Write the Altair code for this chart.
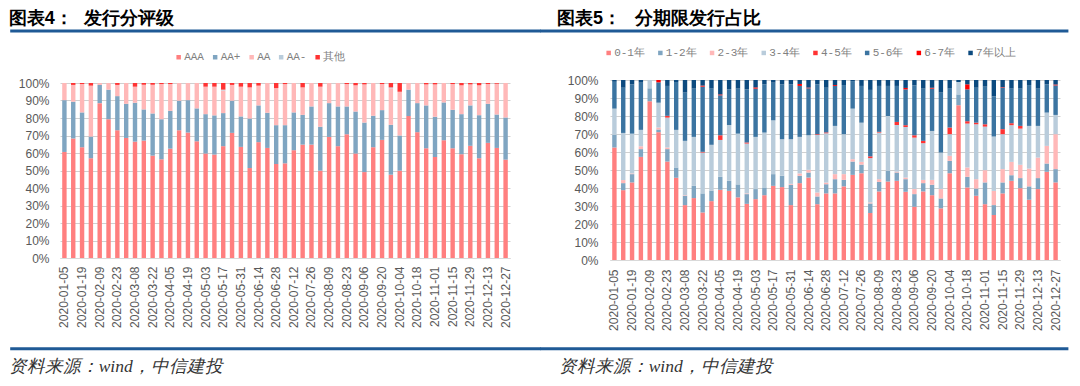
import altair as alt
import pandas as pd

# ---------------- data ----------------
dates = [
    "2020-01-05", "2020-01-12", "2020-01-19", "2020-02-02", "2020-02-09", "2020-02-16", "2020-02-23",
    "2020-03-01", "2020-03-08", "2020-03-15", "2020-03-22", "2020-03-29", "2020-04-05", "2020-04-12",
    "2020-04-19", "2020-04-26", "2020-05-03", "2020-05-10", "2020-05-17", "2020-05-24", "2020-05-31",
    "2020-06-07", "2020-06-14", "2020-06-21", "2020-06-28", "2020-07-05", "2020-07-12", "2020-07-19",
    "2020-07-26", "2020-08-02", "2020-08-09", "2020-08-16", "2020-08-23", "2020-08-30", "2020-09-06",
    "2020-09-13", "2020-09-20", "2020-09-27", "2020-10-04", "2020-10-11", "2020-10-18", "2020-10-25",
    "2020-11-01", "2020-11-08", "2020-11-15", "2020-11-22", "2020-11-29", "2020-12-06", "2020-12-13",
    "2020-12-20", "2020-12-27",
]
tick_labels = [
    "2020-01-05", "2020-01-19", "2020-02-09", "2020-02-23", "2020-03-08", "2020-03-22", "2020-04-05",
    "2020-04-19", "2020-05-03", "2020-05-17", "2020-05-31", "2020-06-14", "2020-06-28", "2020-07-12",
    "2020-07-26", "2020-08-09", "2020-08-23", "2020-09-06", "2020-09-20", "2020-10-04", "2020-10-18",
    "2020-11-01", "2020-11-15", "2020-11-29", "2020-12-13", "2020-12-27",
]
y_ticks = [0, 10, 20, 30, 40, 50, 60, 70, 80, 90, 100]

# Chart 4: issuance by rating (%)
rating_names = ["AAA", "AA+", "AA", "AA-", "其他"]
rating_colors = ["#FF7F7F", "#7FA5C1", "#FFB8B8", "#B9CCDB", "#FF3333"]
r_AAA = [60.6, 68.3, 63.3, 57.0, 88.5, 79.3, 73.0, 68.6, 66.5, 67.1,
         58.5, 56.4, 62.5, 73.0, 71.7, 66.7, 59.7, 59.1, 63.9, 71.5,
         63.5, 51.4, 66.2, 62.9, 53.7, 54.1, 61.6, 64.8, 64.8, 49.9,
         69.2, 63.9, 70.7, 59.7, 49.1, 63.3, 67.5, 47.6, 49.9, 81.1,
         71.9, 62.7, 57.7, 67.3, 62.7, 59.3, 64.1, 57.0, 65.8, 62.9, 56.2]
r_AAp = [29.6, 21.0, 19.9, 12.4, 10.4, 16.9, 19.5, 19.5, 22.2, 17.8,
         24.1, 22.9, 21.6, 16.9, 18.5, 18.8, 22.5, 22.4, 18.9, 18.4,
         17.4, 28.3, 21.0, 20.1, 22.2, 21.8, 21.6, 17.0, 21.8, 25.1,
         19.3, 22.7, 15.9, 24.0, 28.3, 18.0, 17.0, 28.5, 20.1, 15.1,
         16.6, 24.5, 23.0, 21.6, 22.0, 22.9, 23.1, 24.6, 22.3, 19.1, 24.1]
r_AA = [9.8, 9.6, 16.2, 29.1, 1.1, 3.8, 6.4, 11.9, 9.2, 14.1,
        16.4, 20.1, 15.3, 10.1, 9.8, 14.5, 15.7, 16.4, 12.9, 9.0,
        17.0, 17.8, 11.3, 17.0, 21.2, 23.5, 16.8, 15.7, 13.4, 22.9,
        11.5, 13.4, 12.8, 15.0, 21.8, 18.7, 14.9, 20.9, 25.0, 3.8,
        11.5, 12.0, 18.5, 11.1, 14.7, 16.5, 12.0, 17.1, 11.3, 17.6, 19.7]
r_AAm = [0, 0, 0, 0, 0, 0, 0, 0, 0, 0,
         0, 0, 0, 0, 0, 0, 0, 0, 0.5, 0,
         0, 0, 0, 0, 0, 0, 0, 0, 0, 0,
         0, 0, 0, 0, 0, 0, 0, 0.5, 0, 0,
         0, 0, 0, 0, 0, 0, 0, 0, 0, 0, 0]
r_other = [0, 1.1, 0.6, 1.5, 0, 0, 1.1, 0, 2.1, 1.0,
           1.0, 0.6, 0.6, 0, 0, 0, 2.1, 2.1, 3.8, 1.1,
           2.1, 2.5, 1.5, 0, 2.9, 0.6, 0, 2.5, 0, 2.1,
           0, 0, 0.6, 1.3, 0.8, 0, 0.6, 2.5, 5.0, 0,
           0, 0.8, 0.8, 0, 0.6, 1.3, 0.8, 1.3, 0.6, 0.4, 0]

# Chart 5: issuance by tenor (%)
tenor_names = ["0-1年", "1-2年", "2-3年", "3-4年", "4-5年", "5-6年", "6-7年", "7年以上"]
tenor_colors = ["#FF7F7F", "#7FA5C1", "#FFB8B8", "#B9CCDB", "#FF3333", "#3B74A1", "#FF0000", "#0C4A7F"]
t_01 = [62.5, 38.8, 43.1, 57.3, 88.2, 71.0, 54.7, 45.7, 30.5, 34.4,
        26.4, 32.7, 39.0, 38.4, 34.8, 31.2, 33.8, 36.0, 41.2, 40.5,
        30.5, 42.7, 45.8, 31.0, 37.0, 37.0, 40.9, 47.3, 48.2, 26.1,
        38.1, 43.6, 44.0, 37.9, 29.6, 38.1, 36.0, 28.7, 48.2, 86.0,
        40.3, 35.7, 31.0, 25.0, 37.0, 44.0, 39.9, 33.5, 39.4, 49.0, 43.1]
t_12 = [7.0, 3.9, 4.6, 4.3, 7.2, 1.5, 6.9, 5.7, 5.2, 6.8,
        10.6, 5.9, 7.2, 5.6, 7.2, 5.4, 5.6, 4.3, 6.5, 6.3,
        11.3, 4.1, 2.8, 4.3, 5.1, 7.9, 3.6, 7.4, 4.8, 5.3,
        5.3, 5.9, 4.6, 7.0, 7.0, 4.6, 5.8, 5.5, 6.9, 6.0,
        5.9, 4.0, 12.1, 5.5, 6.1, 3.1, 5.6, 7.4, 6.1, 4.6, 7.4]
t_23 = [0, 1.7, 0.4, 1.6, 0, 1.1, 0.9, 0, 0.3, 0,
        0, 0, 0, 0, 0, 0.4, 0, 0, 0, 0,
        0.5, 1.3, 1.5, 2.2, 0.9, 2.8, 3.2, 1.3, 1.5, 0.6,
        1.5, 0, 0.5, 0.9, 2.8, 1.8, 2.7, 5.2, 2.8, 0,
        5.2, 5.2, 6.8, 7.9, 7.4, 7.4, 7.4, 9.9, 11.4, 9.8, 19.4]
t_34 = [14.6, 26.2, 22.1, 9.1, 4.6, 13.8, 16.6, 20.9, 30.2, 27.2,
        22.7, 25.4, 20.5, 31.0, 28.2, 27.7, 29.0, 30.5, 29.9, 20.3,
        24.8, 20.3, 19.2, 32.0, 27.4, 26.8, 22.2, 28.1, 21.8, 24.6,
        25.9, 30.5, 25.9, 28.1, 28.6, 20.4, 27.2, 20.3, 12.0, 6.9,
        24.4, 30.5, 24.2, 30.2, 19.4, 20.4, 20.1, 23.7, 17.6, 18.5, 10.7]
t_45 = [0, 0, 0, 0, 0, 0, 1.0, 0, 0, 0,
        0.4, 0, 2.6, 0, 0, 0.6, 0, 0, 0, 0,
        0, 0, 0, 0.4, 0.5, 0, 0, 0, 0, 1.0,
        0.4, 0, 1.7, 1.0, 1.3, 1.3, 0, 0, 3.7, 0,
        1.3, 0.9, 1.3, 0, 2.8, 1.1, 1.5, 0, 0, 0, 0]
t_56 = [14.9, 25.1, 27.4, 26.2, 0, 11.3, 16.6, 26.6, 26.8, 26.8,
        36.2, 31.2, 22.2, 19.8, 25.0, 29.5, 26.8, 26.8, 20.9, 30.5,
        30.5, 28.3, 26.1, 27.7, 24.8, 22.2, 27.3, 15.3, 20.4, 36.9,
        25.5, 16.7, 20.0, 19.9, 27.7, 29.0, 23.5, 33.3, 21.6, 0,
        17.7, 19.4, 20.9, 22.3, 23.0, 19.2, 20.7, 22.7, 20.7, 15.7, 16.4]
t_67 = [0, 0, 0, 0, 0, 1.3, 0, 0, 0, 0,
        0.6, 0, 0.5, 0, 0, 0, 0.7, 0, 0, 0,
        0, 1.1, 0.4, 0, 0, 0.5, 0, 0, 0, 0,
        0, 0, 0, 0.8, 0, 0, 0.5, 0, 0, 0,
        2.8, 0, 0, 0, 0.3, 0, 0, 0, 0, 0, 0.5]
t_7p = [1.0, 4.3, 2.4, 1.5, 0, 0, 3.3, 1.1, 7.0, 4.8,
        3.1, 4.8, 8.0, 5.2, 4.8, 5.2, 4.1, 2.4, 1.5, 2.4,
        2.4, 2.2, 4.2, 2.4, 4.3, 2.8, 2.8, 0.6, 3.3, 5.5,
        3.3, 3.3, 3.3, 4.4, 3.0, 4.8, 4.3, 7.0, 4.8, 1.1,
        2.4, 4.3, 3.7, 9.1, 4.0, 4.8, 4.8, 2.8, 4.8, 2.4, 2.5]

title4_a, title4_b = "图表4：", "发行分评级"
title5_a, title5_b = "图表5：", "分期限发行占比"
source_text = "资料来源：wind，中信建投"

# ---------------- styling ----------------
BLUE_LINE = "#1F5A96"
AX_FONT = "Liberation Sans"
LEG_FONT = "Liberation Mono"
TITLE_FONT = "Liberation Sans"
FOOT_FONT = "Liberation Serif"


def long_table(names, series):
    rows = []
    for k, (name, vals) in enumerate(zip(names, series)):
        for d, v in zip(dates, vals):
            rows.append({"date": d, "series": name, "k": k, "pct": v})
    return pd.DataFrame(rows)


def one(text):
    return pd.DataFrame({"t": [text]})


def panel(names, series, colors, ta, tb, ta_x, tb_x, height, yrange,
          leg_x, leg_y, leg_pad, ylab_pad, xlab_pad, line_x1, line_x2, foot_x):
    df = long_table(names, series)
    yscale = alt.Scale(domain=[0, 100], nice=False, range=yrange) if yrange else alt.Scale(domain=[0, 100], nice=False)
    bars = alt.Chart(df).mark_bar().encode(
        x=alt.X("date:N", sort=dates,
                scale=alt.Scale(paddingInner=0.5, paddingOuter=0.25),
                axis=alt.Axis(values=tick_labels, labelAngle=-90, title=None, grid=False,
                              ticks=False, tickSize=0, labelPadding=xlab_pad,
                              domainColor="#d9d9d9", labelFont=AX_FONT, labelFontSize=12,
                              labelColor="#595959", labelOverlap=False)),
        y=alt.Y("pct:Q", stack="zero", scale=yscale,
                axis=alt.Axis(values=y_ticks, labelExpr="datum.value + '%'", title=None,
                              domain=False, ticks=False, tickSize=0, labelPadding=ylab_pad,
                              gridColor="#d0d0d0", gridWidth=1, labelFont=AX_FONT,
                              labelFontSize=12, labelColor="#595959")),
        color=alt.Color("series:N", sort=names,
                        scale=alt.Scale(domain=names, range=colors),
                        legend=alt.Legend(orient="none", legendX=leg_x, legendY=leg_y,
                                          direction="horizontal", title=None,
                                          symbolType="square", symbolSize=20,
                                          symbolStrokeWidth=0, symbolOffset=0.75,
                                          labelFont=LEG_FONT,
                                          labelFontSize=11, labelColor="#808080",
                                          labelOffset=0, columnPadding=leg_pad,
                                          padding=0, columns=len(names))),
        order=alt.Order("k:Q", sort="ascending"),
    )
    # invisible marker fixing the top edge of the drawing
    edge = alt.Chart(one("e")).mark_rule(strokeOpacity=0, strokeWidth=1).encode(
        x=alt.value(ta_x + 2), x2=alt.value(ta_x + 10), y=alt.value(-71.5))
    t1 = alt.Chart(one(ta)).mark_text(align="left", baseline="top", font=TITLE_FONT, fontSize=18,
                                      fontWeight="bold", color="#000000").encode(
        x=alt.value(ta_x), y=alt.value(-69.8), text="t:N")
    t2 = alt.Chart(one(tb)).mark_text(align="left", baseline="top", font=TITLE_FONT, fontSize=18,
                                      fontWeight="bold", color="#000000").encode(
        x=alt.value(tb_x), y=alt.value(-69.8), text="t:N")
    top_line = alt.Chart(one("a")).mark_rule(color=BLUE_LINE, strokeWidth=3).encode(
        x=alt.value(line_x1), x2=alt.value(line_x2), y=alt.value(-49))
    bot_line = alt.Chart(one("b")).mark_rule(color=BLUE_LINE, strokeWidth=3).encode(
        x=alt.value(line_x1), x2=alt.value(line_x2), y=alt.value(268.8))
    foot = alt.Chart(one(source_text)).mark_text(align="left", baseline="alphabetic", font=FOOT_FONT,
                                                 fontSize=17.5, fontStyle="italic",
                                                 color="#333333").encode(
        x=alt.value(foot_x), y=alt.value(292), text="t:N")
    return alt.layer(bars, edge, t1, t2, top_line, bot_line, foot).properties(width=450, height=height)


left = panel(rating_names, [r_AAA, r_AAp, r_AA, r_AAm, r_other], rating_colors,
             title4_a, title4_b, -51.3, 24.0, 178, [178, 3],
             112.4, -28.5, 4.5, 11, 8, -49.8, 481.0, -51.3)
right = panel(tenor_names, [t_01, t_12, t_23, t_34, t_45, t_56, t_67, t_7p], tenor_colors,
              title5_a, title5_b, -52.9, 25.4, 180, None,
              -7.6, -32.8, 8.7, 12, 9, -69.6, 458.4, -51.3)

chart = alt.hconcat(left, right, spacing=100, bounds="flush").resolve_scale(
    color="independent", x="independent", y="independent"
).resolve_legend(color="independent").properties(padding=0).configure_view(strokeWidth=0)

chart.save("out.html", embed_options={"renderer": "svg", "actions": False})
